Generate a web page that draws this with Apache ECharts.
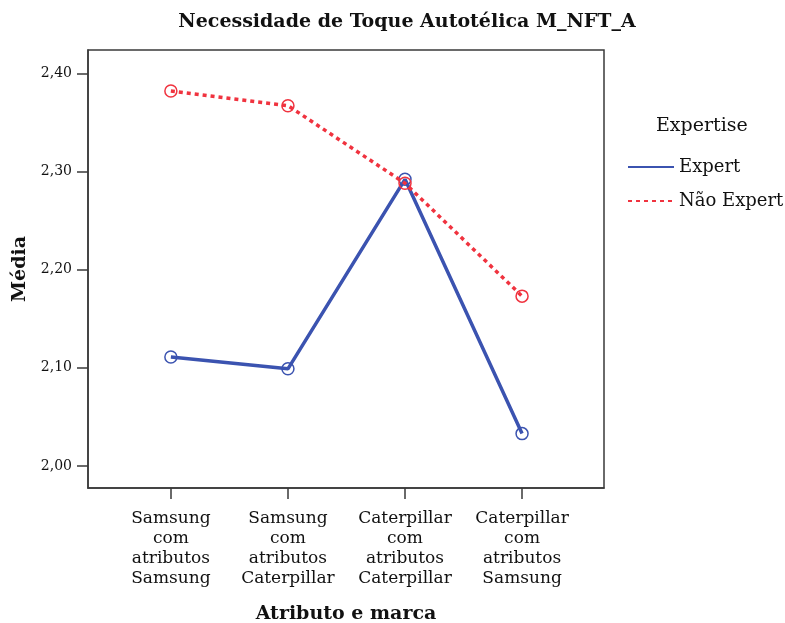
<!DOCTYPE html>
<html>
<head>
<meta charset="utf-8">
<script src="https://cdn.jsdelivr.net/npm/echarts@6/dist/echarts.min.js"></script>
<style>
  html, body { margin: 0; padding: 0; background: #fff; }
  #chart { width: 785px; height: 623px; }
</style>
</head>
<body>
<div id="chart"></div>
<script>
// Médias por atributo e marca
const categories = [
  "Samsung\ncom\natributos\nSamsung",
  "Samsung\ncom\natributos\nCaterpillar",
  "Caterpillar\ncom\natributos\nCaterpillar",
  "Caterpillar\ncom\natributos\nSamsung",
];
const expert = [2.111, 2.099, 2.292, 2.033];
const naoExpert = [2.382, 2.367, 2.288, 2.173];
const yTicks = [2.0, 2.1, 2.2, 2.3, 2.4];

const SERIF = "'DejaVu Serif', 'Liberation Serif', serif";
const BLUE = "#3b53b0";
const RED = "#f0333f";
const catIdx = categories.map((_, i) => i);

const chart = echarts.init(document.getElementById("chart"), undefined, { renderer: "canvas" });

chart.setOption({
  animation: false,
  title: {
    text: "Necessidade de Toque Autotélica M_NFT_A",
    left: 402,
    textAlign: "center",
    top: 8,
    textStyle: { fontFamily: SERIF, fontSize: 19, fontWeight: "bold", color: "#111" },
  },
  legend: {
    orient: "vertical",
    left: 622,
    top: 153,
    itemWidth: 46,
    itemHeight: 14,
    itemGap: 16,
    itemStyle: { opacity: 0 },
    textStyle: { fontFamily: SERIF, fontSize: 18, lineHeight: 14, color: "#111" },
    data: ["Expert", "Não Expert"],
  },
  graphic: [
    {
      type: "text",
      left: 656,
      top: 117,
      style: { text: "Expertise", font: "19px " + SERIF, fill: "#111" },
    },
  ],
  grid: {
    left: 88,
    right: 181,
    top: 50,
    bottom: 135,
    outerBoundsMode: "none",
    containLabel: false,
    show: true,
    borderColor: "#3a3a3a",
    borderWidth: 1.5,
    backgroundColor: "transparent",
  },
  xAxis: {
    type: "value",
    min: -0.708,
    max: 3.70,
    name: "Atributo e marca",
    nameLocation: "middle",
    nameGap: 117,
    nameTextStyle: { fontFamily: SERIF, fontSize: 19, fontWeight: "bold", color: "#111" },
    splitLine: { show: false },
    axisLine: { show: true, onZero: false, lineStyle: { color: "#3a3a3a", width: 1.5 } },
    axisTick: { show: true, customValues: catIdx, length: 11, lineStyle: { color: "#3a3a3a", width: 1.5 } },
    axisLabel: {
      customValues: catIdx,
      formatter: (v) => categories[Math.round(v)] || "",
      fontFamily: SERIF,
      fontSize: 17,
      lineHeight: 20,
      color: "#111",
      margin: 21,
    },
  },
  yAxis: {
    type: "value",
    min: 1.9776,
    max: 2.4237,
    name: "Média",
    nameLocation: "middle",
    nameGap: 52,
    nameTextStyle: { fontFamily: SERIF, fontSize: 19, fontWeight: "bold", color: "#111" },
    splitLine: { show: false },
    axisLine: { show: true, onZero: false, lineStyle: { color: "#3a3a3a", width: 1.5 } },
    axisTick: { show: true, customValues: yTicks, length: 11, lineStyle: { color: "#3a3a3a", width: 1.5 } },
    axisLabel: {
      customValues: yTicks,
      formatter: (v) => v.toFixed(2).replace(".", ","),
      fontFamily: SERIF,
      fontSize: 14,
      color: "#111",
      margin: 16,
    },
  },
  series: [
    {
      name: "Expert",
      type: "line",
      data: expert.map((v, i) => [i, v]),
      symbol: "circle",
      symbolSize: 12,
      itemStyle: { color: "rgba(255,255,255,0)", borderColor: BLUE, borderWidth: 1.5 },
      lineStyle: { color: BLUE, width: 3.5, type: "solid" },
      z: 3,
    },
    {
      name: "Não Expert",
      type: "line",
      data: naoExpert.map((v, i) => [i, v]),
      symbol: "circle",
      symbolSize: 12,
      itemStyle: { color: "rgba(255,255,255,0)", borderColor: RED, borderWidth: 1.5 },
      lineStyle: { color: RED, width: 3.5, type: [4, 4] },
      z: 4,
    },
  ],
});
</script>
</body>
</html>
